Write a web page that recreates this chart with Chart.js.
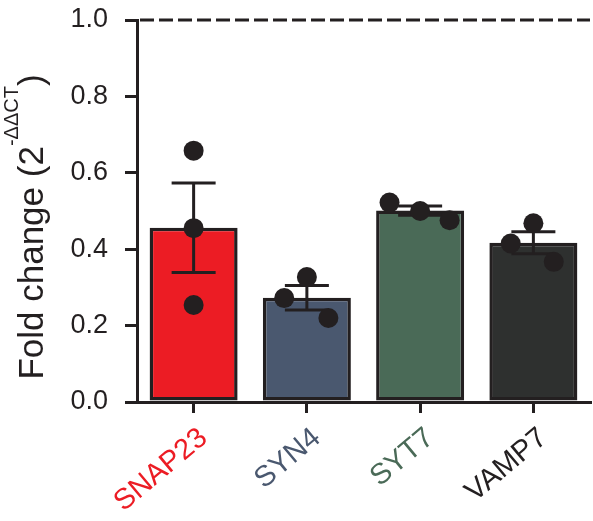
<!DOCTYPE html>
<html>
<head>
<meta charset="utf-8">
<script src="https://cdn.jsdelivr.net/npm/chart.js@4"></script>
<style>
  html, body { margin: 0; padding: 0; background: #ffffff; }
  canvas { display: block; }
</style>
</head>
<body>
<canvas id="c" width="593" height="521"></canvas>
<script>
// ---- data ----
const CATEGORIES = ['SNAP23', 'SYN4', 'SYT7', 'VAMP7'];
const MEAN_FOLD = [0.456, 0.273, 0.501, 0.417];
const SEM_FOLD = [0.117, 0.032, 0.012, 0.029];
const SNAP23_POINTS = [0.658, 0.455, 0.254];
const SYN4_POINTS = [0.272, 0.327, 0.220];
const SYT7_POINTS = [0.522, 0.500, 0.476];
const VAMP7_POINTS = [0.415, 0.468, 0.367];
const POINT_JITTER = [[0, 0, 0], [-0.2, 0, 0.19], [-0.27, 0, 0.26], [-0.2, 0, 0.18]];
const Y_TICKS = [0.0, 0.2, 0.4, 0.6, 0.8, 1.0];
const REFERENCE_LEVEL = 1.0;

// ---- styles ----
const INK = '#231f20';
const BAR_COLORS = ['#ec1c24', '#4a586f', '#4a6a57', '#2e302f'];
const LABEL_COLORS = ['#ec1c24', '#4a586f', '#4a6a57', '#231f20'];
const FONT = "'Liberation Sans', Arial, sans-serif";

const replicateSets = [SNAP23_POINTS, SYN4_POINTS, SYT7_POINTS, VAMP7_POINTS];
const scatterData = [];
replicateSets.forEach((pts, i) => {
  pts.forEach((v, j) => scatterData.push({ x: i + POINT_JITTER[i][j], y: v }));
});

const errorBarPlugin = {
  id: 'errorBars',
  afterDatasetDraw(chart, args) {
    if (args.index !== 0) return;
    const ctx = chart.ctx;
    const y = chart.scales.y;
    ctx.save();
    ctx.strokeStyle = INK;
    ctx.lineWidth = 3;
    ctx.lineCap = 'butt';
    args.meta.data.forEach((bar, i) => {
      const x = bar.x;
      const hi = y.getPixelForValue(MEAN_FOLD[i] + SEM_FOLD[i]);
      const lo = y.getPixelForValue(MEAN_FOLD[i] - SEM_FOLD[i]);
      const hw = 22;
      ctx.beginPath();
      ctx.moveTo(x, hi); ctx.lineTo(x, lo);
      ctx.moveTo(x - hw, hi); ctx.lineTo(x + hw, hi);
      ctx.moveTo(x - hw, lo); ctx.lineTo(x + hw, lo);
      ctx.stroke();
    });
    ctx.restore();
  }
};

const refLinePlugin = {
  id: 'refLine',
  afterDatasetsDraw(chart) {
    const ctx = chart.ctx;
    const area = chart.chartArea;
    const yp = chart.scales.y.getPixelForValue(REFERENCE_LEVEL);
    ctx.save();
    ctx.strokeStyle = INK;
    ctx.lineWidth = 3;
    ctx.setLineDash([14, 5]);
    ctx.beginPath();
    ctx.moveTo(area.left + 3, yp);
    ctx.lineTo(area.right, yp);
    ctx.stroke();
    ctx.restore();
  }
};

const titlePlugin = {
  id: 'yTitle',
  afterDraw(chart) {
    const ctx = chart.ctx;
    const area = chart.chartArea;
    const mainSize = 35, supSize = 20;
    const main = 'Fold change (2', sup = '-\u0394\u0394CT', close = ')';
    ctx.save();
    ctx.fillStyle = INK;
    ctx.textBaseline = 'alphabetic';
    ctx.textAlign = 'left';
    ctx.font = mainSize + 'px ' + FONT;
    const w1 = ctx.measureText(main).width;
    const w3 = ctx.measureText(close).width;
    ctx.font = supSize + 'px ' + FONT;
    const w2 = ctx.measureText(sup).width;
    const total = w1 + w2 + w3;
    ctx.translate(43, (area.top + area.bottom) / 2 + 16);
    ctx.rotate(-Math.PI / 2);
    const start = -total / 2;
    ctx.font = mainSize + 'px ' + FONT;
    ctx.fillText(main, start, 0);
    ctx.fillText(close, start + w1 + w2, 0);
    ctx.font = supSize + 'px ' + FONT;
    ctx.fillText(sup, start + w1, -mainSize * 0.716);
    ctx.restore();
  }
};

new Chart(document.getElementById('c'), {
  data: {
    labels: CATEGORIES,
    datasets: [
      {
        type: 'bar',
        data: MEAN_FOLD,
        backgroundColor: BAR_COLORS,
        borderColor: INK,
        borderWidth: 3.5,
        borderSkipped: false,
        grouped: false,
        barPercentage: 0.777,
        categoryPercentage: 1.0,
        order: 1,
        xAxisID: 'x',
        yAxisID: 'y'
      },
      {
        type: 'scatter',
        data: scatterData,
        backgroundColor: INK,
        borderColor: INK,
        borderWidth: 0,
        pointRadius: 10,
        order: 0,
        xAxisID: 'xj',
        yAxisID: 'y'
      }
    ]
  },
  options: {
    responsive: false,
    devicePixelRatio: 1,
    animation: false,
    layout: { autoPadding: false, padding: { top: 20, right: 3, left: 0, bottom: 0 } },
    plugins: { legend: { display: false }, tooltip: { enabled: false } },
    scales: {
      x: {
        type: 'category',
        offset: true,
        afterFit(scale) { scale.height = 119; scale.paddingLeft = 0; scale.paddingRight = 0; },
        border: { display: true, color: INK, width: 3 },
        grid: { display: true, offset: false, drawOnChartArea: false, drawTicks: true, tickLength: 11, lineWidth: 3, color: INK, tickColor: INK },
        ticks: {
          autoSkip: false,
          minRotation: 40,
          maxRotation: 40,
          padding: 8,
          labelOffset: 10,
          color: (c) => LABEL_COLORS[c.index],
          font: { family: FONT, size: 29 }
        }
      },
      xj: {
        type: 'linear',
        display: false,
        min: -0.5,
        max: 3.5
      },
      y: {
        type: 'linear',
        min: 0,
        max: 1,
        afterFit(scale) { scale.width = 137; scale.paddingTop = 0; scale.paddingBottom = 0; },
        afterBuildTicks(scale) { scale.ticks = Y_TICKS.map(v => ({ value: v })); },
        border: { display: true, color: INK, width: 3 },
        grid: { display: true, drawOnChartArea: false, drawTicks: true, tickLength: 12, lineWidth: 3, color: INK, tickColor: INK },
        ticks: {
          padding: 17,
          color: INK,
          font: { family: FONT, size: 27 },
          callback: (v) => Number(v).toFixed(1)
        }
      }
    }
  },
  plugins: [errorBarPlugin, refLinePlugin, titlePlugin]
});
</script>
</body>
</html>
